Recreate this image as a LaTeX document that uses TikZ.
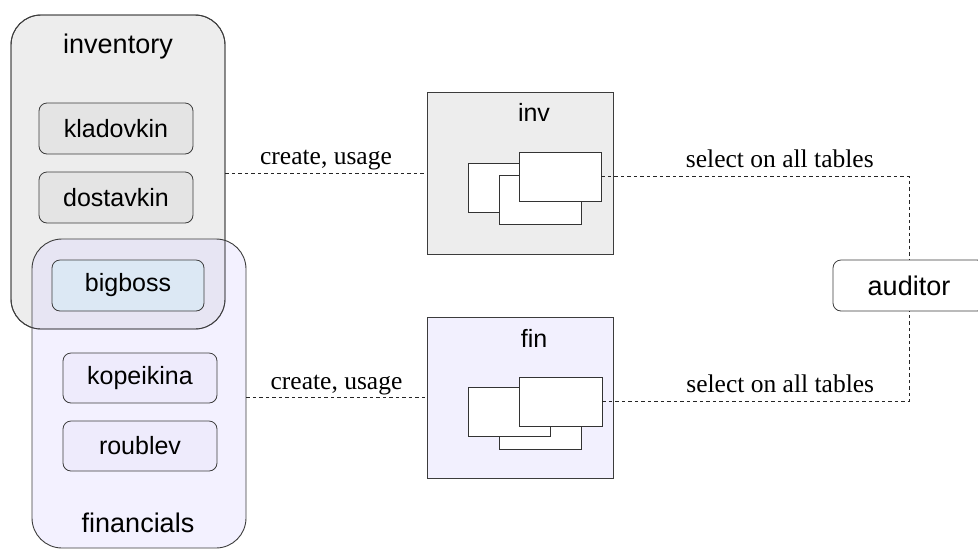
\documentclass[tikz,border=0pt]{standalone}
\usepackage{fontspec}
\setmainfont{Liberation Serif}
\setsansfont{Liberation Sans}
\definecolor{invfill}{RGB}{237,237,237}
\definecolor{finfill}{RGB}{222,216,255}
\definecolor{finbox}{RGB}{242,240,254}
\definecolor{userfill}{RGB}{228,228,228}
\definecolor{bossfill}{RGB}{220,232,244}
\definecolor{finuser}{RGB}{238,235,252}
\definecolor{edgecol}{RGB}{60,60,60}
\tikzset{
  group/.style={draw=edgecol, line width=0.9pt, rounded corners=30pt, inner sep=0pt},
  userbox/.style={draw=edgecol, line width=0.8pt, rounded corners=8pt, minimum width=154pt, minimum height=51pt,
    font=\sffamily\fontsize{25}{28}\selectfont, inner sep=0pt},
  schema/.style={draw=edgecol, line width=0.9pt, inner sep=0pt},
  tbl/.style={draw=black!80, line width=0.8pt, fill=white, minimum width=82pt, minimum height=49pt, inner sep=0pt},
  title/.style={font=\sffamily\fontsize{26}{30}\selectfont, inner sep=0pt},
  conn/.style={line width=0.8pt, dash pattern=on 3.5pt off 3pt, draw=black!85},
  elabel/.style={font=\fontsize{25.5}{29}\selectfont, inner sep=0pt}
}
\begin{document}
\begin{tikzpicture}[x=1pt,y=-1pt]
\useasboundingbox (0,0) rectangle (978,550);
% groups
\node[group, fill=invfill, minimum width=214pt, minimum height=314pt] (inventory) at (118,172) {};
\node[group, fill=finfill, fill opacity=0.35, draw opacity=1, minimum width=214pt, minimum height=309pt] (financials) at (139,393.5) {};
\node[group, minimum width=214pt, minimum height=314pt] (inventoryrim) at (118,172) {};
\node[title, font=\sffamily\fontsize{27}{30}\selectfont] (invtitle) at (118,47) {inventory};
\node[title, font=\sffamily\fontsize{27}{30}\selectfont] (fintitle) at (138,523) {financials};
% users
\node[userbox, fill=userfill] (kladovkin) at (116,128.5) {kladovkin};
\node[userbox, fill=userfill] (dostavkin) at (116,197.5) {dostavkin};
\node[userbox, fill=bossfill, minimum width=152pt] (bigboss) at (128,285.5) {bigboss};
\node[userbox, fill=finuser, minimum height=50pt] (kopeikina) at (140,378) {kopeikina};
\node[userbox, fill=finuser, minimum height=50pt] (roublev) at (140,446) {roublev};
% schemas
\node[schema, fill=invfill, minimum width=186pt, minimum height=162pt] (inv) at (520,173) {};
\node[title, font=\sffamily\fontsize{25}{28}\selectfont] (invlabel) at (534,112) {inv};
\node[tbl] (invA) at (509,187.5) {};
\node[tbl] (invB) at (540,200) {};
\node[tbl] (invC) at (560,176.5) {};
\node[schema, fill=finbox, minimum width=186pt, minimum height=161pt] (fin) at (520,397.5) {};
\node[title, font=\sffamily\fontsize{25}{28}\selectfont] (finlabel) at (534,338) {fin};
\node[tbl] (finB) at (540,424.5) {};
\node[tbl] (finA) at (509,411.5) {};
\node[tbl, minimum width=83pt] (finC) at (560.5,401.5) {};
% auditor
\node[userbox, fill=white, minimum width=152pt, minimum height=51pt, font=\sffamily\fontsize{27}{30}\selectfont] (auditor) at (909,285.5) {auditor};
% connectors
\draw[conn] (inventory.east |- inv.west) -- node[elabel, above=2.5pt] {create, usage} (inv.west);
\draw[conn] (financials.east |- fin.west) -- node[elabel, above=2.5pt] {create, usage} (fin.west);
\draw[conn] (invC.east) -- node[elabel, above=8pt, pos=0.58] {select on all tables} (invC.east -| auditor.north) -- (auditor.north);
\draw[conn] (finC.east) -- node[elabel, above=8pt, pos=0.58] {select on all tables} (finC.east -| auditor.south) -- (auditor.south);
\end{tikzpicture}
\end{document}
